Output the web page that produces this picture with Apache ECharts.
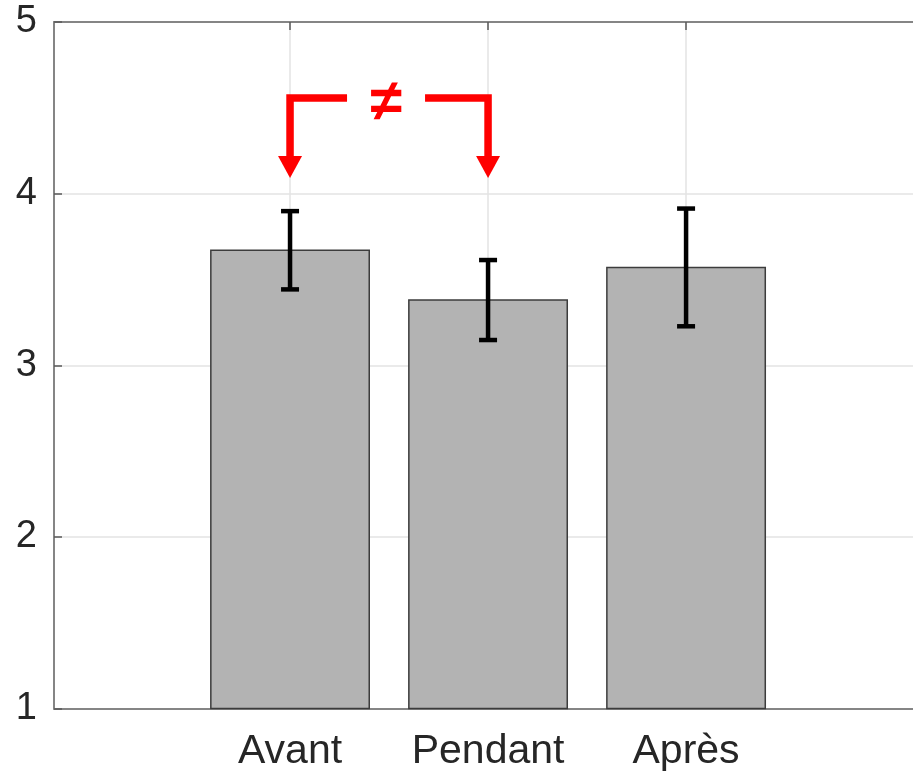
<!DOCTYPE html>
<html><head><meta charset="utf-8">
<script src="https://cdn.jsdelivr.net/npm/echarts@6/dist/echarts.min.js"></script>
<style>html,body{margin:0;padding:0;background:#fff}#c{width:913px;height:775px}</style>
</head><body><div id="c"></div>
<script>
// ---- data ----
const categories = ['Avant', 'Pendant', 'Après'];
const means = [3.67, 3.38, 3.57];
const errors = [0.228, 0.233, 0.343];
const yTicks = [1, 2, 3, 4, 5];
const comparisonPair = ['Avant', 'Pendant'];
const comparisonLabel = '≠';
const comparisonLevel = 4.557;
const comparisonTip = 4.091;

// ---- build ----
const positions = categories.map((_, i) => i + 1);
const barData = positions.map((p, i) => [p, means[i]]);
const errData = positions.map((p, i) => [p, means[i] - errors[i], means[i] + errors[i]]);
const annData = [[positions[categories.indexOf(comparisonPair[0])], positions[categories.indexOf(comparisonPair[1])], comparisonLevel, comparisonTip]];

const FONT = '"Liberation Sans", Arial, Helvetica, sans-serif';
const AXIS_COLOR = '#858585';
const RED = '#ff0000';

const chart = echarts.init(document.getElementById('c'), null, {renderer: 'canvas'});

const xCommon = {
  type: 'value', min: -0.192, max: 4.146,
  axisLine: {show: true, onZero: false, lineStyle: {color: AXIS_COLOR, width: 2}},
  axisTick: {show: true, inside: true, length: 8, customValues: positions, lineStyle: {color: '#5a5a5a', width: 1.5}},
};

chart.setOption({
  animation: false,
  backgroundColor: '#ffffff',
  grid: {left: 54, right: 0, top: 22, bottom: 66.5, containLabel: false},
  xAxis: [
    Object.assign({}, xCommon, {
      position: 'bottom',
      axisLabel: {customValues: positions, formatter: v => categories[Math.round(v) - 1] || '', fontSize: 41, color: '#262626', margin: 23, fontFamily: FONT},
      splitLine: {show: true, lineStyle: {color: '#e3e3e3', width: 1.5}}
    }),
    Object.assign({}, xCommon, {
      position: 'top',
      axisLabel: {show: false},
      splitLine: {show: false}
    })
  ],
  yAxis: {
    type: 'value', min: yTicks[0], max: yTicks[yTicks.length - 1], interval: 1, position: 'left',
    axisLine: {show: true, onZero: false, lineStyle: {color: AXIS_COLOR, width: 2}},
    axisTick: {show: true, inside: true, length: 8, lineStyle: {color: '#5a5a5a', width: 1.5}},
    axisLabel: {fontSize: 38, color: '#262626', margin: 17, fontFamily: FONT},
    splitLine: {show: true, lineStyle: {color: '#e3e3e3', width: 1.5}}
  },
  series: [
    {
      type: 'custom', xAxisIndex: 0, yAxisIndex: 0, data: barData, z: 3,
      renderItem(params, api) {
        const x = api.value(0), y = api.value(1);
        const tl = api.coord([x - 0.4, y]);
        const br = api.coord([x + 0.4, yTicks[0]]);
        return {type: 'rect', shape: {x: tl[0], y: tl[1], width: br[0] - tl[0], height: br[1] - tl[1]},
          style: {fill: '#b3b3b3', stroke: '#3c3c3c', lineWidth: 1.5}};
      }
    },
    {
      type: 'custom', xAxisIndex: 0, yAxisIndex: 0, data: errData, z: 4,
      renderItem(params, api) {
        const x = api.value(0);
        const lo = api.coord([x, api.value(1)]);
        const hi = api.coord([x, api.value(2)]);
        const hw = 9;
        const st = {stroke: '#000', lineWidth: 4.5};
        return {type: 'group', children: [
          {type: 'line', shape: {x1: lo[0], y1: lo[1], x2: hi[0], y2: hi[1]}, style: st},
          {type: 'line', shape: {x1: lo[0] - hw, y1: lo[1], x2: lo[0] + hw, y2: lo[1]}, style: st},
          {type: 'line', shape: {x1: hi[0] - hw, y1: hi[1], x2: hi[0] + hw, y2: hi[1]}, style: st}
        ]};
      }
    },
    {
      type: 'custom', xAxisIndex: 0, yAxisIndex: 0, data: annData, z: 5,
      renderItem(params, api) {
        const a = api.coord([api.value(0), api.value(2)]);
        const b = api.coord([api.value(1), api.value(2)]);
        const ta = api.coord([api.value(0), api.value(3)]);
        const tb = api.coord([api.value(1), api.value(3)]);
        const headH = 22, headW = 12, gap = 39;
        const cx = (a[0] + b[0]) / 2 - 3;
        const st = {stroke: RED, lineWidth: 7.5, fill: null, lineJoin: 'miter', lineCap: 'butt'};
        return {type: 'group', children: [
          {type: 'polyline', shape: {points: [[ta[0], ta[1] - headH + 1], [a[0], a[1]], [cx - gap, a[1]]]}, style: st},
          {type: 'polyline', shape: {points: [[cx + gap, b[1]], [b[0], b[1]], [tb[0], tb[1] - headH + 1]]}, style: st},
          {type: 'polygon', shape: {points: [[ta[0] - headW, ta[1] - headH], [ta[0] + headW, ta[1] - headH], [ta[0], ta[1]]]}, style: {fill: RED}},
          {type: 'polygon', shape: {points: [[tb[0] - headW, tb[1] - headH], [tb[0] + headW, tb[1] - headH], [tb[0], tb[1]]]}, style: {fill: RED}},
          {type: 'text', style: {text: comparisonLabel, x: cx, y: a[1] + 6, fill: RED, font: 'bold 58px ' + FONT, align: 'center', verticalAlign: 'middle'}}
        ]};
      }
    }
  ]
});
</script>
</body></html>
